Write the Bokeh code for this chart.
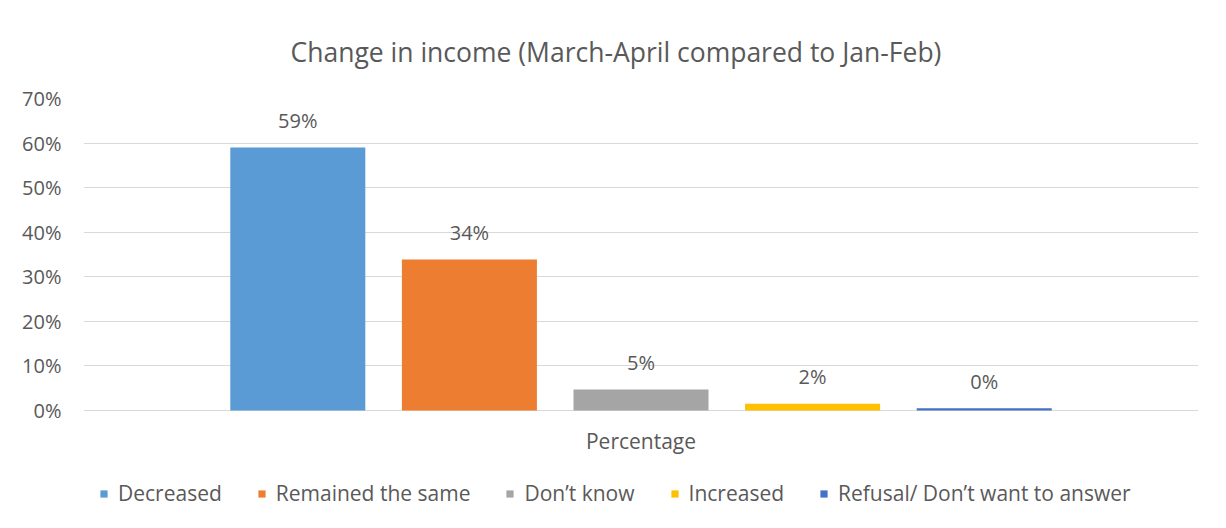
from bokeh.plotting import figure
from bokeh.models import (Range1d, FactorRange, NumeralTickFormatter, Legend, LegendItem,
                          ColumnDataSource, FixedTicker)
from bokeh.transform import dodge
from bokeh.core.properties import value
from bokeh.embed import file_html
from bokeh.resources import INLINE

# ---- data ----
group = ["Percentage"]
categories = ["Decreased", "Remained the same", "Don\u2019t know", "Increased",
              "Refusal/ Don\u2019t want to answer"]
values = [0.590, 0.339, 0.047, 0.015, 0.005]
value_labels = ["59%", "34%", "5%", "2%", "0%"]
colors = ["#5B9BD5", "#ED7D31", "#A5A5A5", "#FFC000", "#4472C4"]
y_ticks = [0.0, 0.1, 0.2, 0.3, 0.4, 0.5, 0.6, 0.7]
title_text = "Change in income (March-April compared to Jan-Feb)"

FONT = "Open Sans"
TXT = "#595959"
GRID = "#d9d9d9"

# frame extends below the 0% line to host the category label and the legend
PX_PER_TENTH = (410 - 98) / 7.0
y_bottom = -(515 - 410) / PX_PER_TENTH * 0.1

p = figure(width=1220, height=520, x_range=FactorRange(*group, range_padding=0),
           y_range=Range1d(y_bottom, 0.7), output_backend="svg", toolbar_location=None,
           min_border_left=83, min_border_right=22, min_border_top=98, min_border_bottom=5,
           outline_line_color=None, background_fill_color="white", border_fill_color="white",
           title=title_text)

p.title.align = "left"
p.title.offset = 207
p.title.standoff = 58
p.title.text_font = FONT
p.title.text_font_size = "26.5px"
p.title.text_font_style = "normal"
p.title.text_color = TXT

step = 0.1539
bar_w = 0.1211
items = []
for i, (cat, v, lab, col) in enumerate(zip(categories, values, value_labels, colors)):
    src = ColumnDataSource(dict(x=group, top=[v], lab=[lab]))
    off = (i - 2) * step
    r = p.vbar(x=dodge("x", off, range=p.x_range), top="top", width=bar_w, source=src,
               fill_color=col, line_color=None)
    p.text(x=dodge("x", off, range=p.x_range), y="top", text="lab", source=src,
           text_align="center", text_baseline="middle", y_offset=-27,
           text_font=value(FONT), text_font_size="20px", text_color=TXT)
    items.append(LegendItem(label=cat, renderers=[r]))

# category label under the 0% line
p.text(x=group, y=[0.0] * len(group), text=group, text_align="center", text_baseline="middle",
       y_offset=30, text_font=value(FONT), text_font_size="21px", text_color=TXT)

# axes
p.yaxis.ticker = FixedTicker(ticks=y_ticks)
p.yaxis.formatter = NumeralTickFormatter(format="0%")
p.yaxis.axis_line_color = None
p.yaxis.major_tick_line_color = None
p.yaxis.minor_tick_line_color = None
p.yaxis.major_label_standoff = 16
p.yaxis.major_label_text_font = FONT
p.yaxis.major_label_text_font_size = "20px"
p.yaxis.major_label_text_color = TXT

p.xaxis.visible = False
p.xgrid.grid_line_color = None
p.ygrid.grid_line_color = GRID
p.ygrid.grid_line_width = 1

legend = Legend(items=items, orientation="horizontal", location=(16, 8),
                glyph_width=9, glyph_height=9, label_standoff=10, spacing=35,
                label_text_font=FONT, label_text_font_size="21px", label_text_color=TXT,
                border_line_color=None, background_fill_alpha=0, margin=0, padding=0)
p.add_layout(legend, "center")

open("out.html", "w").write(file_html(p, INLINE))
